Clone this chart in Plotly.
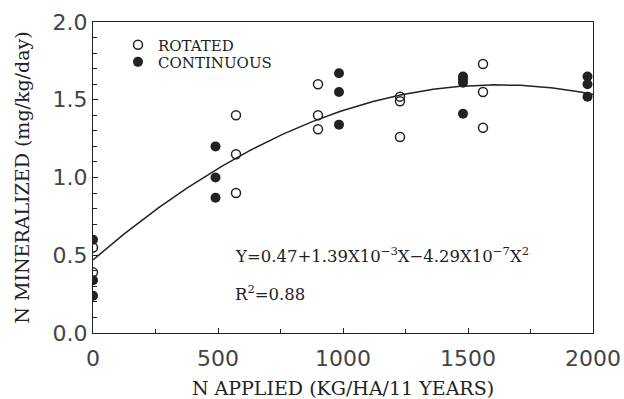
import numpy as np
import plotly.graph_objects as go

# Rotated (open circles)
rot_x = [0, 0, 572, 572, 572, 900, 900, 900, 1228, 1228, 1228, 1560, 1560, 1560]
rot_y = [0.55, 0.39, 1.40, 1.15, 0.90, 1.60, 1.40, 1.31, 1.52, 1.49, 1.26, 1.73, 1.55, 1.32]
# Continuous (filled circles)
con_x = [0, 0, 0, 490, 490, 490, 984, 984, 984, 1480, 1480, 1480, 1480, 1978, 1978, 1978]
con_y = [0.60, 0.34, 0.24, 1.20, 1.00, 0.87, 1.67, 1.55, 1.34, 1.65, 1.63, 1.61, 1.41, 1.65, 1.60, 1.52]

# Fitted quadratic: Y = b0 + b1 X + b2 X^2
b0, b1, b2 = 0.47, 1.39e-3, -4.29e-7
fit_x = np.linspace(0, 2000, 201)
fit_y = b0 + b1 * fit_x + b2 * fit_x ** 2

serif = "DejaVu Serif"
sans = "DejaVu Sans"
ink = "#222"

fig = go.Figure()
fig.add_trace(go.Scatter(x=fit_x, y=fit_y, mode="lines", line=dict(color=ink, width=1.5),
                         showlegend=False, hoverinfo="skip"))
fig.add_trace(go.Scatter(x=rot_x, y=rot_y, mode="markers", name="ROTATED", legend="legend",
                         marker=dict(symbol="circle-open", size=9, color=ink,
                                     line=dict(width=1.5, color=ink))))
fig.add_trace(go.Scatter(x=con_x, y=con_y, mode="markers", name="CONTINUOUS", legend="legend2",
                         marker=dict(symbol="circle", size=10, color=ink)))

fig.add_annotation(x=560, y=0.50, xref="x", yref="y", xanchor="left", yanchor="middle",
                   text="Y=0.47+1.39X10<sup>−3</sup>X−4.29X10<sup>−7</sup>X<sup>2</sup>",
                   showarrow=False, font=dict(family=serif, size=16.5, color=ink))
fig.add_annotation(x=560, y=0.26, xref="x", yref="y", xanchor="left", yanchor="middle",
                   text="R<sup>2</sup>=0.88",
                   showarrow=False, font=dict(family=serif, size=16.5, color=ink))

leg_common = dict(xanchor="left", yanchor="middle", bgcolor="rgba(0,0,0,0)",
                  font=dict(family=serif, size=15, color=ink), itemwidth=30,
                  borderwidth=0)
fig.update_layout(
    width=624, height=399,
    margin=dict(l=93, r=31, t=22, b=66),
    paper_bgcolor="white", plot_bgcolor="white",
    showlegend=True,
    legend=dict(x=0.05, y=0.926, **leg_common),
    legend2=dict(x=0.05, y=0.871, **leg_common),
)
fig.update_xaxes(range=[0, 2000], tickvals=[0, 500, 1000, 1500, 2000],
                 ticks="inside", ticklen=5, tickcolor=ink,
                 minor=dict(ticks="inside", dtick=250, ticklen=4, tickcolor=ink),
                 showline=True, linecolor=ink, linewidth=1.2, mirror=True,
                 showgrid=False, zeroline=False, ticklabelstandoff=5, automargin=False,
                 tickfont=dict(family=sans, size=22, color="#444"),
                 title=dict(text="N APPLIED (KG/HA/11 YEARS)", font=dict(family=serif, size=19, color=ink),
                            standoff=14))
fig.update_yaxes(range=[0, 2.0], tickvals=[0, 0.5, 1.0, 1.5, 2.0], ticktext=["0.0", "0.5", "1.0", "1.5", "2.0"],
                 ticks="inside", ticklen=5, tickcolor=ink,
                 minor=dict(ticks="inside", dtick=0.1, ticklen=4, tickcolor=ink),
                 showline=True, linecolor=ink, linewidth=1.2, mirror=True,
                 showgrid=False, zeroline=False, automargin=False,
                 tickfont=dict(family=sans, size=22, color="#444"),
                 title=dict(text="N MINERALIZED (mg/kg/day)", font=dict(family=serif, size=19, color=ink),
                            standoff=17))

fig.write_html("out.html")
